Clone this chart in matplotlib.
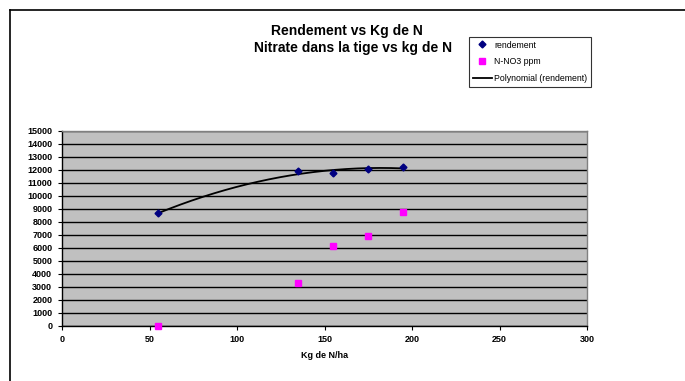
import numpy as np
import matplotlib
matplotlib.use("Agg")
import matplotlib.pyplot as plt
from matplotlib.lines import Line2D

kg_n = [55, 135, 155, 175, 195]
rendement = [8650, 11900, 11750, 12100, 12200]
nno3 = [0, 3300, 6150, 6900, 8750]
x_ticks = [0, 50, 100, 150, 200, 250, 300]
y_ticks = list(range(0, 15001, 1000))

plt.rcParams['font.family'] = ['Liberation Sans', 'DejaVu Sans']

fig = plt.figure(figsize=(6.85, 3.81), dpi=100)
ax = fig.add_axes([62/685, 1-325.7/381, (587-62)/685, (325.7-131)/381])
ax.set_facecolor('#C0C0C0')

# polynomial trendline (order 2) fitted on the data
coef = np.polyfit(kg_n, rendement, 2)
xs = np.linspace(min(kg_n), max(kg_n), 200)
ax.plot(xs, np.polyval(coef, xs), color='black', lw=1.3, zorder=3, label='Polynomial (rendement)')
ax.plot(kg_n, rendement, linestyle='none', marker='D', ms=3.5, color='#000080', zorder=4, label='rendement')
ax.plot(kg_n, nno3, linestyle='none', marker='s', ms=4, color='#FF00FF', zorder=4, label='N-NO3 ppm', clip_on=False)

ax.set_xlim(0, 300)
ax.set_ylim(0, 15000)
ax.set_xticks(x_ticks)
ax.set_yticks(y_ticks)
ax.set_xticklabels([str(v) for v in x_ticks], fontsize=6.5, fontweight='bold')
ax.set_yticklabels([str(v) for v in y_ticks], fontsize=6.5, fontweight='bold')
ax.tick_params(axis='both', length=3, width=0.8, color='black', pad=4)
ax.grid(axis='y', color='black', lw=1.0)
ax.set_axisbelow(True)
for s in ax.spines.values():
    s.set_color('#808080')
    s.set_linewidth(1.0)
ax.spines['left'].set_color('black')
ax.spines['bottom'].set_color('black')

ax.set_xlabel('Kg de N/ha', fontsize=6.5, fontweight='bold', labelpad=5)

fig.text(347/685, 1-31/381, 'Rendement vs Kg de N', ha='center', va='center', fontsize=10, fontweight='bold')
fig.text(353.5/685, 1-48/381, 'Nitrate dans la tige vs kg de N', ha='center', va='center', fontsize=10, fontweight='bold')

handles, labels = ax.get_legend_handles_labels()
order = [1, 2, 0]
leg = fig.legend([handles[i] for i in order], [labels[i] for i in order],
                 loc='upper left', bbox_to_anchor=(469/685, 1-37/381),
                 fontsize=6.3, frameon=True, fancybox=False, shadow=False,
                 edgecolor='black', handlelength=2.2, handletextpad=0.3,
                 borderpad=0.4, labelspacing=0.9, borderaxespad=0)
leg.get_frame().set_linewidth(0.8)

# chart border (left and top visible)
fig.add_artist(Line2D([10/685, 10/685], [0, 1-10/381], color='black', lw=1.2, transform=fig.transFigure))
fig.add_artist(Line2D([10/685, 1], [1-10/381, 1-10/381], color='black', lw=1.2, transform=fig.transFigure))

fig.savefig('out.png', dpi=100)
